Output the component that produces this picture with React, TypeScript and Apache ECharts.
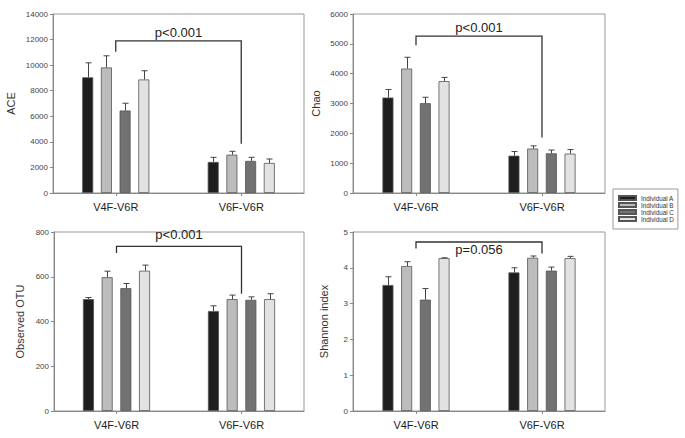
import React, { useEffect, useRef } from "react";
import * as echarts from "echarts";

const categories = ["V4F-V6R", "V6F-V6R"];
const individuals = ["Individual A", "Individual B", "Individual C", "Individual D"];
const barColors = ["#1e1e1e", "#bcbcbc", "#727272", "#e2e2e2"];

// [individual][category]
const aceMeans = [[9050, 2430], [9820, 3000], [6450, 2510], [8880, 2350]];
const aceErrs = [[1130, 360], [910, 260], [570, 280], [680, 310]];
const chaoMeans = [[3200, 1250], [4170, 1490], [3010, 1330], [3750, 1320]];
const chaoErrs = [[270, 140], [380, 90], [200, 110], [125, 135]];
const otuMeans = [[500, 447], [598, 500], [549, 497], [627, 500]];
const otuErrs = [[7, 23], [27, 18], [21, 13], [25, 24]];
const shannonMeans = [[3.52, 3.87], [4.05, 4.28], [3.11, 3.92], [4.27, 4.27]];
const shannonErrs = [[0.23, 0.13], [0.12, 0.05], [0.31, 0.1], [0.01, 0.05]];

const yNames = ["ACE", "Chao", "Observed OTU", "Shannon index"];
const yMax = [14000, 6000, 800, 5];
const yInterval = [2000, 1000, 200, 1];
// bracket: [left leg bottom, top, right leg bottom, label y]
const brackets = [
  [11040, 11900, 3860, 12530],
  [4950, 5260, 1860, 5560],
  [706, 736, 524, 788],
  [4.54, 4.72, 4.4, 4.52],
];
const pTexts = ["p<0.001", "p<0.001", "p<0.001", "p=0.056"];

const panelMeans = [aceMeans, chaoMeans, otuMeans, shannonMeans];
const panelErrs = [aceErrs, chaoErrs, otuErrs, shannonErrs];

const grids = [
  { left: 53, top: 14, width: 251, height: 179 },
  { left: 353, top: 14, width: 252, height: 179 },
  { left: 54, top: 232, width: 250, height: 179 },
  { left: 353, top: 232, width: 252, height: 179 },
];
const nameGaps = [37, 32, 29, 24];

const FONT = "Liberation Sans, Arial, sans-serif";
const BW = 11;
const GAP = 0.7;

export default function App() {
  const ref = useRef<HTMLDivElement>(null);
  useEffect(() => {
    if (!ref.current) return;
    const chart = echarts.init(ref.current, undefined, { renderer: "svg" });
    const series: any[] = [];
    for (let p = 0; p < 4; p++) {
      for (let i = 0; i < 4; i++) {
        series.push({
          type: "bar",
          name: individuals[i],
          xAxisIndex: p,
          yAxisIndex: p,
          data: panelMeans[p][i],
          barWidth: BW,
          barGap: GAP * 100 + "%",
          itemStyle: { color: barColors[i], borderColor: "#555", borderWidth: 0.8 },
          z: 2,
        });
      }
      const errData: number[][] = [];
      for (let i = 0; i < 4; i++) {
        for (let c = 0; c < 2; c++) {
          errData.push([c, i, panelMeans[p][i][c], panelErrs[p][i][c]]);
        }
      }
      series.push({
        type: "custom",
        xAxisIndex: p,
        yAxisIndex: p,
        z: 3,
        encode: { x: 0, y: 2 },
        data: errData,
        renderItem: (params: any, api: any) => {
          const cat = api.value(0);
          const ind = api.value(1);
          const mean = api.value(2);
          const err = api.value(3);
          const base = api.coord([cat, mean]);
          const top = api.coord([cat, mean + err]);
          const total = 4 * BW + 3 * BW * GAP;
          const x = Math.round(base[0] - total / 2 + ind * (BW + BW * GAP) + BW / 2) + 0.5;
          const st = { stroke: "#444", lineWidth: 1 };
          return {
            type: "group",
            children: [
              { type: "line", shape: { x1: x, y1: base[1], x2: x, y2: top[1] }, style: st },
              { type: "line", shape: { x1: x - 3, y1: top[1], x2: x + 3, y2: top[1] }, style: st },
            ],
          };
        },
      });
      series.push({
        type: "custom",
        xAxisIndex: p,
        yAxisIndex: p,
        z: 4,
        encode: { x: 0, y: [1, 2, 3, 4] },
        data: [[0, ...brackets[p]]],
        renderItem: (params: any, api: any) => {
          const l = api.value(1);
          const t = api.value(2);
          const r = api.value(3);
          const ly = api.value(4);
          const a = api.coord([0, l]);
          const b = api.coord([0, t]);
          const c = api.coord([1, t]);
          const d = api.coord([1, r]);
          const lab = api.coord([0, ly]);
          return {
            type: "group",
            children: [
              {
                type: "polyline",
                shape: { points: [a, b, c, d] },
                style: { stroke: "#333", lineWidth: 1.3, fill: "none" },
              },
              {
                type: "text",
                x: (b[0] + c[0]) / 2,
                y: lab[1],
                style: {
                  text: pTexts[p],
                  fontSize: 13,
                  fontFamily: FONT,
                  fill: "#222",
                  align: "center",
                  verticalAlign: "middle",
                },
              },
            ],
          };
        },
      });
    }

    chart.setOption({
      animation: false,
      grid: grids.map((g) => ({ ...g, show: true, borderColor: "#999", borderWidth: 1, containLabel: false })),
      legend: {
        orient: "vertical",
        left: 613,
        top: 189,
        data: individuals,
        itemWidth: 17,
        itemHeight: 4,
        itemGap: 1,
        icon: "rect",
        padding: [6, 4, 7, 5],
        borderColor: "#999",
        borderWidth: 1,
        textStyle: { fontSize: 6.3, color: "#333", fontFamily: FONT },
      },
      xAxis: grids.map((_, p) => ({
        type: "category",
        gridIndex: p,
        data: categories,
        axisLine: { show: true, lineStyle: { color: "#888" } },
        axisTick: { show: true, alignWithLabel: true, length: 3, lineStyle: { color: "#888" } },
        axisLabel: { fontSize: 11, color: "#222", margin: 8, fontFamily: FONT },
      })),
      yAxis: grids.map((_, p) => ({
        type: "value",
        gridIndex: p,
        min: 0,
        max: yMax[p],
        interval: yInterval[p],
        name: yNames[p],
        nameLocation: "middle",
        nameGap: nameGaps[p],
        nameTextStyle: { fontSize: 11, color: "#333", fontFamily: FONT },
        splitLine: { show: false },
        axisLine: { show: true, lineStyle: { color: "#888" } },
        axisTick: { show: true, length: 3, lineStyle: { color: "#888" } },
        axisLabel: {
          fontSize: 8,
          color: "#444",
          margin: 5,
          fontFamily: FONT,
          formatter: (v: number) => String(v),
        },
      })),
      series,
    });
    return () => chart.dispose();
  }, []);
  return (
    <div
      ref={ref}
      style={{ position: "absolute", left: 0, top: 0, width: 685, height: 438, background: "#fff" }}
    />
  );
}
